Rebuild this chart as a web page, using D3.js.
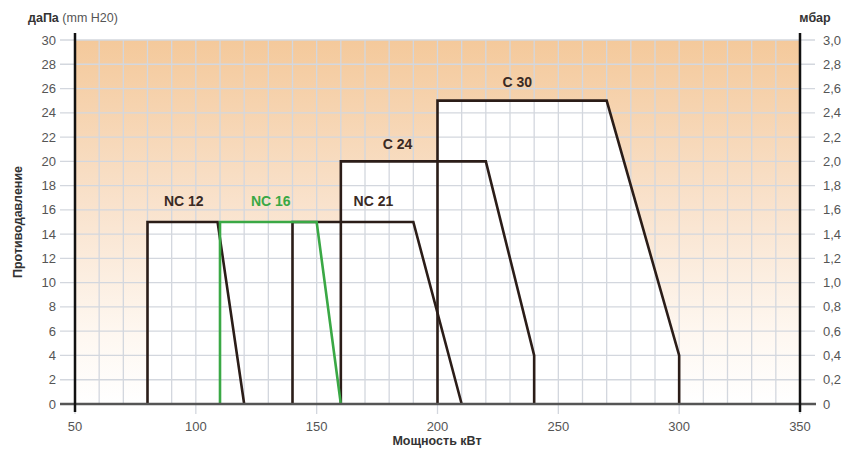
<!DOCTYPE html>
<html><head><meta charset="utf-8">
<script src="https://cdn.jsdelivr.net/npm/d3@7"></script>
<style>body{margin:0;background:#fff;}svg{display:block;font-family:Arial,"Liberation Sans",sans-serif;}</style>
</head><body>
<svg id="c" width="850" height="451"></svg>
<script>
const xTicks = [50,100,150,200,250,300,350];
const yTicks = [0,2,4,6,8,10,12,14,16,18,20,22,24,26,28,30];
const yTicksRight = ["0","0,2","0,4","0,6","0,8","1,0","1,2","1,4","1,6","1,8","2,0","2,2","2,4","2,6","2,8","3,0"];
const seriesNames = ["NC 12","NC 16","NC 21","C 24","C 30"];
const seriesColors = ["#2b1d18","#3aa845","#2b1d18","#2b1d18","#2b1d18"];
const nc12 = [[80,0],[80,15],[109,15],[120,0]];
const nc16 = [[110,0],[110,15],[150,15],[160,0]];
const nc21 = [[140,0],[140,15],[190,15],[210,0]];
const c24 = [[160,0],[160,20],[220,20],[240,4],[240,0]];
const c30 = [[200,0],[200,25],[270,25],[300,4],[300,0]];
const seriesPts = [nc12, nc16, nc21, c24, c30];
const labelPos = [[95,16.7],[131,16.7],[173.5,16.7],[183.5,21.4],[233,26.5]];
const drawOrder = [0,2,3,4,1];

const svg = d3.select("#c");
const x = d3.scaleLinear().domain([50,350]).range([75,800]);
const y = d3.scaleLinear().domain([0,30]).range([404,40]);

const defs = svg.append("defs");
const g = defs.append("linearGradient").attr("id","bg").attr("x1",0).attr("y1",0).attr("x2",0).attr("y2",1);
g.append("stop").attr("offset","0%").attr("stop-color","#f4c99b");
g.append("stop").attr("offset","45%").attr("stop-color","#f9e2cc");
g.append("stop").attr("offset","80%").attr("stop-color","#fef7f0");
g.append("stop").attr("offset","100%").attr("stop-color","#ffffff");

svg.append("rect").attr("x",x(50)).attr("y",y(30)).attr("width",x(350)-x(50)).attr("height",y(0)-y(30)).attr("fill","url(#bg)");

const line = d3.line().x(d=>x(d[0])).y(d=>y(d[1]));
// fills
svg.append("g").selectAll("path").data(seriesPts).join("path")
  .attr("d",d=>line(d)+"Z").attr("fill","#fff").attr("stroke","none");

// grid
const grid = svg.append("g").attr("stroke","#d3d7de").attr("stroke-width",1.3);
grid.selectAll("line.v").data(d3.range(60,350,10)).join("line")
  .attr("x1",d=>x(d)).attr("x2",d=>x(d)).attr("y1",y(30)).attr("y2",y(0));
grid.selectAll("line.h").data(yTicks.filter(d=>d>0)).join("line")
  .attr("x1",60).attr("x2",815).attr("y1",d=>y(d)).attr("y2",d=>y(d));
grid.selectAll("line.t").data(xTicks).join("line")
  .attr("x1",d=>x(d)).attr("x2",d=>x(d)).attr("y1",y(0)).attr("y2",y(0)+10);

// outlines
svg.append("g").selectAll("path").data(drawOrder).join("path")
  .attr("d",i=>line(seriesPts[i])).attr("fill","none")
  .attr("stroke",i=>seriesColors[i]).attr("stroke-width",2.6).attr("stroke-linejoin","miter");

// axes lines
svg.append("line").attr("x1",60).attr("x2",816).attr("y1",y(0)).attr("y2",y(0)).attr("stroke","#555").attr("stroke-width",2.5);
svg.append("line").attr("x1",x(50)).attr("x2",x(50)).attr("y1",33).attr("y2",412).attr("stroke","#111").attr("stroke-width",2.5);
svg.append("line").attr("x1",x(350)).attr("x2",x(350)).attr("y1",33).attr("y2",412).attr("stroke","#111").attr("stroke-width",2.5);

// tick labels
const tc = "#555";
svg.append("g").selectAll("text").data(yTicks).join("text")
  .attr("x",56).attr("y",d=>y(d)).attr("dy","0.35em").attr("text-anchor","end")
  .attr("font-size",13).attr("fill",tc).text(d=>d);
svg.append("g").selectAll("text").data(yTicksRight).join("text")
  .attr("x",823).attr("y",(d,i)=>y(yTicks[i])).attr("dy","0.35em").attr("text-anchor","start")
  .attr("font-size",13).attr("fill",tc).text(d=>d);
svg.append("g").selectAll("text").data(xTicks).join("text")
  .attr("x",d=>x(d)).attr("y",426).attr("dy","0.35em").attr("text-anchor","middle")
  .attr("font-size",13).attr("fill",tc).text(d=>d);

// series labels
svg.append("g").selectAll("text").data(seriesNames).join("text")
  .attr("x",(d,i)=>x(labelPos[i][0])).attr("y",(d,i)=>y(labelPos[i][1]))
  .attr("dy","0.35em").attr("text-anchor","middle").attr("font-size",14).attr("font-weight","bold")
  .attr("fill",(d,i)=>i===1?"#3aa845":"#3a2a24").text(d=>d);

// axis titles
const t1 = svg.append("text").attr("x",28).attr("y",22).attr("font-size",12.5).attr("fill","#333");
t1.append("tspan").attr("font-weight","bold").text("даПа");
t1.append("tspan").attr("fill","#555").text(" (mm H20)");
svg.append("text").attr("x",815).attr("y",22).attr("text-anchor","middle").attr("font-size",12.5).attr("font-weight","bold").attr("fill","#333").text("мбар");
svg.append("text").attr("transform","translate(22,222) rotate(-90)").attr("text-anchor","middle")
  .attr("font-size",12.5).attr("font-weight","bold").attr("fill","#333").text("Противодавление");
svg.append("text").attr("x",437).attr("y",445).attr("text-anchor","middle")
  .attr("font-size",12.5).attr("font-weight","bold").attr("fill","#333").text("Мощность кВт");
</script>
</body></html>
